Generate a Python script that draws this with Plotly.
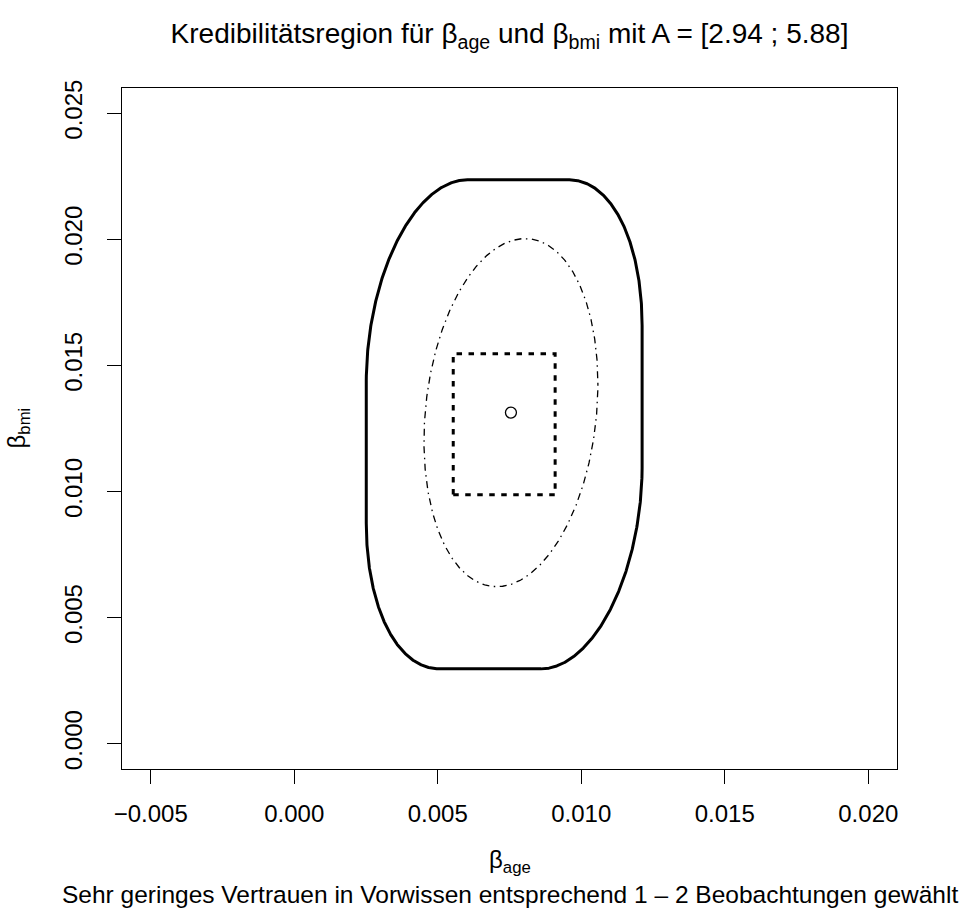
import numpy as np
import plotly.graph_objects as go

# ---- data ----
x_tick_vals = [-0.005, 0.000, 0.005, 0.010, 0.015, 0.020]
x_tick_text = ["\u22120.005", "0.000", "0.005", "0.010", "0.015", "0.020"]
y_tick_vals = [0.000, 0.005, 0.010, 0.015, 0.020, 0.025]
y_tick_text = ["0.000", "0.005", "0.010", "0.015", "0.020", "0.025"]

# posterior mean (circle) and range of posterior means (dotted box)
mean_x = [0.00755]
mean_y = [0.01313]
rect_x = [0.00554, 0.00909]
rect_y = [0.00987, 0.01546]

# credibility ellipse: standard half-widths and correlation
ell_sd = [0.00303, 0.00690]
ell_rho = 0.163

# ---- geometry of the regions ----
S = np.array([[ell_sd[0] ** 2, ell_rho * ell_sd[0] * ell_sd[1]],
              [ell_rho * ell_sd[0] * ell_sd[1], ell_sd[1] ** 2]])
L = np.linalg.cholesky(S)
t = np.linspace(0, 2 * np.pi, 721)
E = L @ np.vstack([np.cos(t), np.sin(t)])
ell_x = mean_x[0] + E[0]
ell_y = mean_y[0] + E[1]

# outer region: box of means swept by the ellipse
th = np.linspace(0, 2 * np.pi, 1441)[:-1] + 1e-4
ox, oy = [], []
for a in th:
    n = np.array([np.cos(a), np.sin(a)])
    s = S @ n / np.sqrt(n @ S @ n)
    cx = rect_x[1] if n[0] > 0 else rect_x[0]
    cy = rect_y[1] if n[1] > 0 else rect_y[0]
    ox.append(cx + s[0])
    oy.append(cy + s[1])
ox.append(ox[0])
oy.append(oy[0])

box_x = [rect_x[0], rect_x[1], rect_x[1], rect_x[0], rect_x[0]]
box_y = [rect_y[0], rect_y[0], rect_y[1], rect_y[1], rect_y[0]]

FONT = "Liberation Sans, Arial, Helvetica, sans-serif"

fig = go.Figure()
fig.add_trace(go.Scatter(x=ox, y=oy, mode="lines",
                         line=dict(color="black", width=3), hoverinfo="skip"))
fig.add_trace(go.Scatter(x=ell_x, y=ell_y, mode="lines",
                         line=dict(color="black", width=1.3,
                                   dash="1.5px,4.5px,7px,4.5px"), hoverinfo="skip"))
fig.add_trace(go.Scatter(x=box_x, y=box_y, mode="lines",
                         line=dict(color="black", width=3, dash="5.5px,6.5px"),
                         hoverinfo="skip"))
fig.add_trace(go.Scatter(x=mean_x, y=mean_y, mode="markers",
                         marker=dict(symbol="circle-open", size=11, color="black",
                                     line=dict(width=1.3, color="black"))))

axis_common = dict(showgrid=False, zeroline=False, showline=True, mirror=True,
                   linecolor="black", linewidth=1.3, ticks="outside", ticklen=14,
                   tickwidth=1.3, tickcolor="black",
                   tickfont=dict(family=FONT, size=24, color="black"))

fig.update_layout(
    width=959, height=915,
    margin=dict(l=122, r=62, t=88, b=146),
    paper_bgcolor="white", plot_bgcolor="white",
    showlegend=False,
    title=dict(text="Kredibilitätsregion für β<sub>age</sub> und β<sub>bmi</sub> mit A = [2.94 ; 5.88]",
               x=0.5313, xanchor="center", y=1 - 33 / 915, yanchor="middle",
               font=dict(family=FONT, size=28, color="black")),
    xaxis=dict(range=[-0.006, 0.021], tickvals=x_tick_vals, ticktext=x_tick_text,
               ticklabelstandoff=9, **axis_common),
    yaxis=dict(range=[-0.001, 0.026], tickvals=y_tick_vals, ticktext=y_tick_text,
               tickangle=-90, ticklabelstandoff=15, **axis_common),
    annotations=[
        dict(text="β<sub>age</sub>", xref="paper", yref="paper", x=0.5, y=(770 - 863) / 682,
             xanchor="center", yanchor="middle", showarrow=False,
             font=dict(family=FONT, size=24, color="black")),
        dict(text="Sehr geringes Vertrauen in Vorwissen entsprechend 1 – 2 Beobachtungen gewählt",
             xref="paper", yref="paper", x=0.5, y=(770 - 896) / 682,
             xanchor="center", yanchor="middle", showarrow=False,
             font=dict(family=FONT, size=24.5, color="black")),
        dict(text="β<sub>bmi</sub>", xref="paper", yref="paper", x=(18 - 122) / 775, y=0.5,
             xanchor="center", yanchor="middle", showarrow=False, textangle=-90,
             font=dict(family=FONT, size=24, color="black")),
    ],
)

fig.write_html("out.html")
